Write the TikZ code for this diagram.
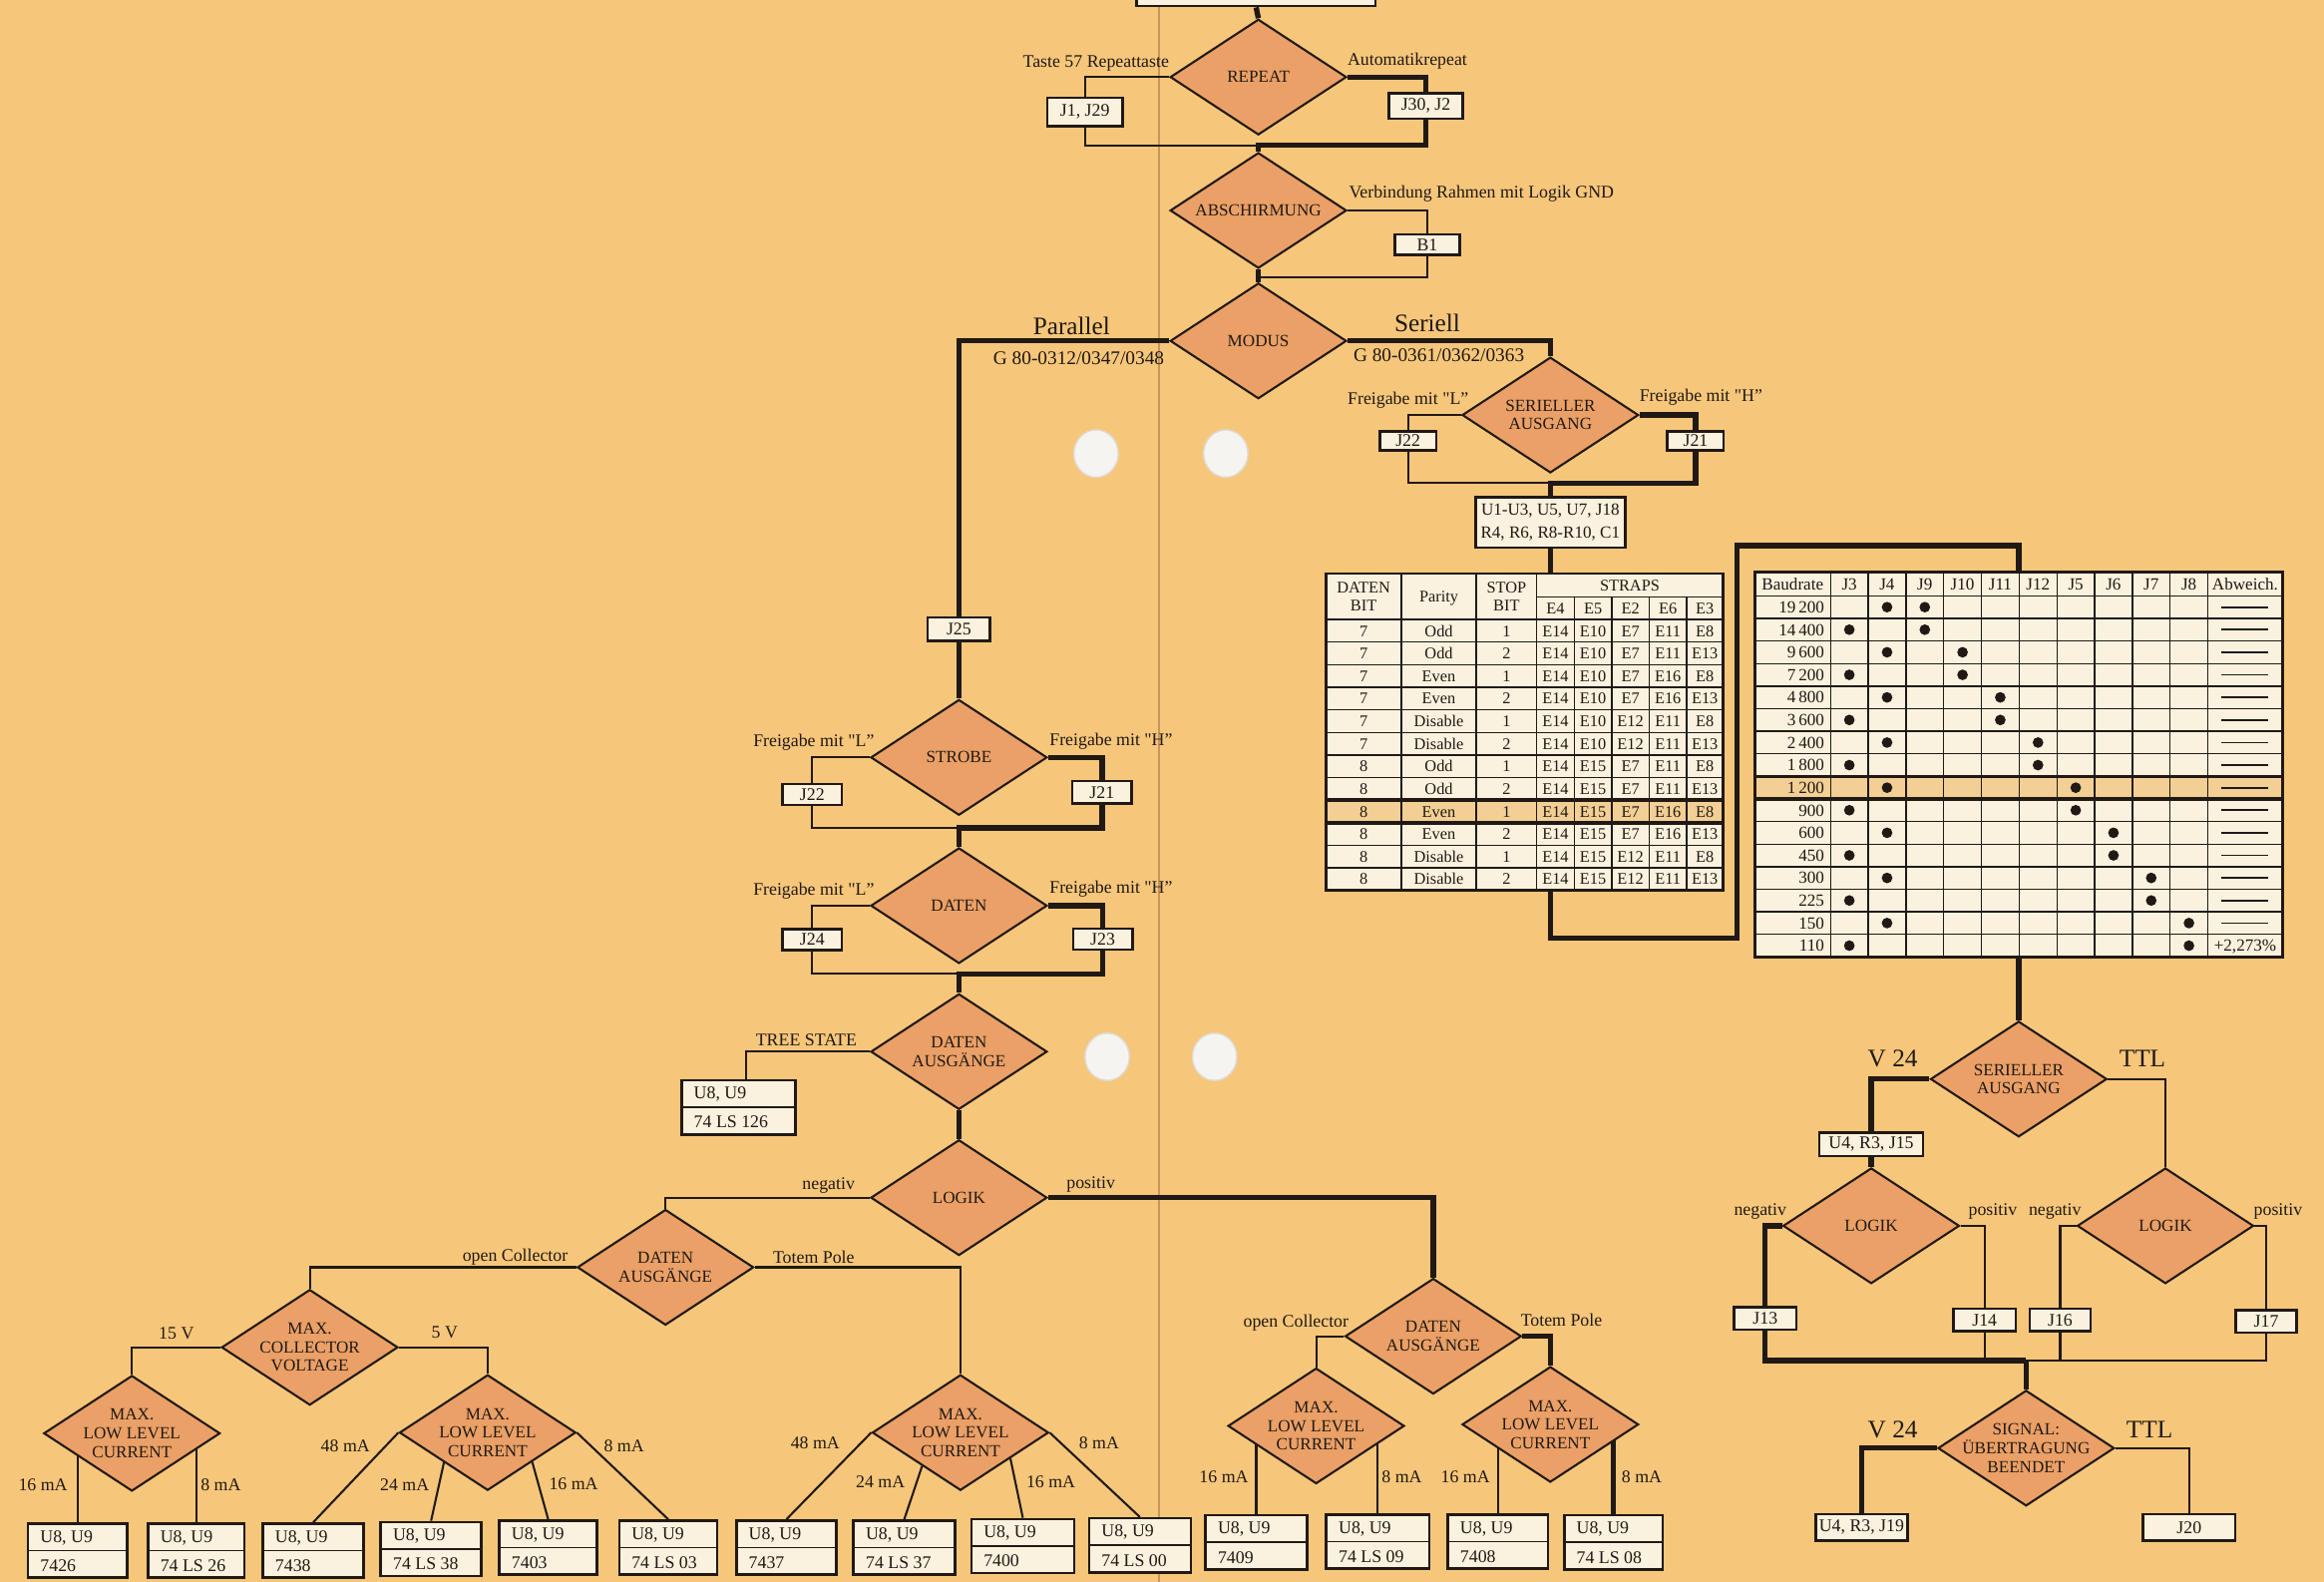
\documentclass[tikz,border=0pt]{standalone}
\usepackage{fontspec}
\setmainfont{Liberation Serif}
\usetikzlibrary{shapes.geometric,calc}
\definecolor{bg}{RGB}{246,198,122}
\definecolor{dfill}{RGB}{234,160,102}
\definecolor{cream}{RGB}{250,242,222}
\definecolor{ink}{RGB}{32,25,20}
\definecolor{hl}{RGB}{242,207,148}
\definecolor{hole}{RGB}{246,244,240}
\definecolor{holeedge}{RGB}{225,218,205}
\definecolor{crease}{RGB}{200,150,92}
\pgfdeclarelayer{bgl}
\pgfdeclarelayer{lines}
\pgfsetlayers{bgl,lines,main}
\tikzset{
  dia/.style={shape=diamond, draw=ink, line width=1.4pt, fill=dfill, minimum width=119pt, minimum height=78pt, inner sep=0pt},
  dtxt/.style={font=\fontsize{11.5}{12.5}\selectfont, align=center, text=ink, inner sep=0pt},
  lbl/.style={font=\fontsize{12}{14}\selectfont, text=ink, inner sep=0pt},
  biglbl/.style={font=\fontsize{17}{20}\selectfont, text=ink, inner sep=0pt},
  glbl/.style={font=\fontsize{13}{15}\selectfont, text=ink, inner sep=0pt},
  jbox/.style={draw=ink, line width=1.7pt, fill=cream, font=\fontsize{12}{14}\selectfont, text=ink, inner sep=0pt},
  icbox/.style={draw=ink, line width=1.7pt, fill=cream, minimum height=36.5pt, inner sep=0pt},
  thinl/.style={draw=ink, line width=1.4pt},
  thickl/.style={draw=ink, line width=3.6pt},
  tgrid/.style={draw=ink, line width=0.9pt},
  ttxt/.style={font=\fontsize{11}{12}\selectfont, text=ink, inner sep=0pt, text height=7.6pt, text depth=0pt},
  ttxt2/.style={font=\fontsize{11}{12}\selectfont, text=ink, inner sep=0pt, align=center},
  rtxt/.style={font=\fontsize{11.5}{12}\selectfont, text=ink, inner sep=0pt, text height=7.8pt, text depth=0pt},
}
\newcommand\Dia[4]{\node[dia] (#1) at (#2,#3) {};\node[dtxt] (#1-t) at (#1.center) {#4};}
\newcommand\JB[6]{\node[jbox, minimum width=#4pt, minimum height=#5pt] (#1) at (#2,#3) {#6};}
\newcommand\ICB[5]{%
  \node[icbox, minimum width=#4pt, anchor=north west] (#1) at (#2,#3) {};
  \draw[ink, line width=1.2pt] (#1.west) -- (#1.east);
  \node[lbl, anchor=base west] (#1-a) at ($(#1.north west)+(9,13.5)$) {U8, U9};
  \node[lbl, anchor=base west] (#1-b) at ($(#1.west)+(9,14)$) {#5};}
\newcommand\FL{Freigabe mit \textquotedbl L”}
\newcommand\FH{Freigabe mit \textquotedbl H”}
\begin{document}
\begin{tikzpicture}[x=1pt,y=-1pt]
\useasboundingbox (0,0) rectangle (1568,1067);
\begin{pgfonlayer}{bgl}
\fill[bg] (0,0) rectangle (1568,1067);
\draw[crease, line width=1.2pt] (782,0) -- (782,1067);
\fill[hole, draw=holeedge, line width=1pt] (739.5,306) ellipse (15pt and 16pt);
\fill[hole, draw=holeedge, line width=1pt] (827,306) ellipse (15pt and 16pt);
\fill[hole, draw=holeedge, line width=1pt] (747,713) ellipse (15pt and 16pt);
\fill[hole, draw=holeedge, line width=1pt] (819.5,713) ellipse (15pt and 16pt);
\end{pgfonlayer}

% ---------- diamonds
\node[jbox, minimum width=161pt, minimum height=20pt, anchor=south] (topbox) at (847.5,5) {};
\Dia{repeat}{849}{52}{REPEAT}
\Dia{abs}{849}{142}{ABSCHIRMUNG}
\Dia{modus}{849}{230}{MODUS}
\Dia{ser1}{1046}{280}{SERIELLER\\AUSGANG}
\Dia{strobe}{647}{511}{STROBE}
\Dia{daten}{647}{611}{DATEN}
\Dia{dam}{647}{709.5}{DATEN\\AUSGÄNGE}
\Dia{logm}{647}{808}{LOGIK}
\Dia{dal}{449}{855}{DATEN\\AUSGÄNGE}
\Dia{mcv}{209}{909}{MAX.\\COLLECTOR\\VOLTAGE}
\Dia{llc1}{89}{967}{MAX.\\LOW LEVEL\\CURRENT}
\Dia{llc2}{329}{966.5}{MAX.\\LOW LEVEL\\CURRENT}
\Dia{llc3}{648}{966.5}{MAX.\\LOW LEVEL\\CURRENT}
\Dia{dar}{967}{901.5}{DATEN\\AUSGÄNGE}
\Dia{llc4}{888}{962}{MAX.\\LOW LEVEL\\CURRENT}
\Dia{llc5}{1046}{961}{MAX.\\LOW LEVEL\\CURRENT}
\Dia{ser2}{1362}{728}{SERIELLER\\AUSGANG}
\Dia{log3}{1262.5}{827}{LOGIK}
\Dia{log4}{1461}{827}{LOGIK}
\Dia{sig}{1367}{977}{SIGNAL:\\ÜBERTRAGUNG\\BEENDET}

% ---------- jumper boxes
\JB{j1}{732}{75.5}{51}{19}{J1, J29}
\JB{j30}{962}{71.5}{50}{17}{J30, J2}
\JB{b1box}{963}{165}{44}{14}{B1}
\JB{j22a}{950}{297.5}{38}{13}{J22}
\JB{j21a}{1144}{297.5}{38}{13}{J21}
\node[jbox, minimum width=101pt, minimum height=34pt, align=center, font=\fontsize{11.5}{15.5}\selectfont] (ubox) at (1046,352.5) {U1-U3, U5, U7, J18\\R4, R6, R8-R10, C1};
\JB{j25}{647}{424.5}{42}{16}{J25}
\JB{j22b}{548}{536}{40}{14}{J22}
\JB{j21b}{743.5}{534.5}{40}{15}{J21}
\JB{j24}{548}{634}{40}{14}{J24}
\JB{j23}{744}{633.5}{40}{14}{J23}
\JB{u15}{1262.5}{772}{70}{16}{U4, R3, J15}
\JB{j13}{1191}{889.5}{42}{15}{J13}
\JB{j14}{1339}{890.5}{42}{15}{J14}
\JB{j16}{1390}{890.5}{41}{15}{J16}
\JB{j17}{1529}{891.5}{41}{15}{J17}
\JB{u19}{1256}{1030.5}{62}{18}{U4, R3, J19}
\JB{j20}{1477}{1030.5}{62}{18}{J20}

% ---------- IC boxes
\ICB{ic0}{459}{728}{77}{74 LS 126}
\ICB{ic1}{18}{1027}{67}{7426}
\ICB{ic2}{99}{1027}{65}{74 LS 26}
\ICB{ic3}{176.5}{1027}{68}{7438}
\ICB{ic4}{256}{1026}{68}{74 LS 38}
\ICB{ic5}{336}{1025}{66}{7403}
\ICB{ic6}{417}{1025}{66}{74 LS 03}
\ICB{ic7}{496}{1025}{67.5}{7437}
\ICB{ic8}{575}{1025}{68.5}{74 LS 37}
\ICB{ic9}{654.5}{1024}{69.5}{7400}
\ICB{ic10}{734}{1023.5}{68.5}{74 LS 00}
\ICB{ic11}{812.5}{1021.5}{68.5}{7409}
\ICB{ic12}{894}{1021}{69.5}{74 LS 09}
\ICB{ic13}{976}{1021}{67.5}{7408}
\ICB{ic14}{1054.5}{1021.5}{66.5}{74 LS 08}

% ---------- labels
\node[lbl, anchor=west] (lt57) at (690,43) {Taste 57 Repeattaste};
\node[lbl, anchor=west] (lauto) at (909,41) {Automatikrepeat};
\node[lbl, anchor=west] (lverb) at (910,131) {Verbindung Rahmen mit Logik GND};
\node[biglbl, anchor=base] (lpar) at (723,226) {Parallel};
\node[glbl, anchor=west] (lgp) at (670,242) {G 80-0312/0347/0348};
\node[biglbl, anchor=base] (lser) at (963,224) {Seriell};
\node[glbl, anchor=west] (lgs) at (913,240) {G 80-0361/0362/0363};
\node[lbl, anchor=east] (lfl1) at (991,270) {\FL};
\node[lbl, anchor=west] (lfh1) at (1106,268) {\FH};
\node[lbl, anchor=east] (lfl2) at (590,501) {\FL};
\node[lbl, anchor=west] (lfh2) at (708,500) {\FH};
\node[lbl, anchor=east] (lfl3) at (590,601) {\FL};
\node[lbl, anchor=west] (lfh3) at (708,600) {\FH};
\node[lbl] (ltree) at (544,702) {TREE STATE};
\node[lbl] (lneg1) at (559,800) {negativ};
\node[lbl] (lpos1) at (736,799) {positiv};
\node[lbl] (loc1) at (347.6,848) {open Collector};
\node[lbl] (ltp1) at (549,848) {Totem Pole};
\node[lbl] (l15v) at (119,899.5) {15 V};
\node[lbl] (l5v) at (300,899) {5 V};
\node[lbl] (lm1) at (29,1001.5) {16 mA};
\node[lbl] (lm2) at (149,1001.5) {8 mA};
\node[lbl] (lm3) at (233,975.8) {48 mA};
\node[lbl] (lm4) at (273,1001.5) {24 mA};
\node[lbl] (lm5) at (387,1001) {16 mA};
\node[lbl] (lm6) at (421,975.8) {8 mA};
\node[lbl] (lm7) at (550,973.8) {48 mA};
\node[lbl] (lm8) at (594,999.8) {24 mA};
\node[lbl] (lm9) at (709,999.8) {16 mA};
\node[lbl] (lm10) at (741.5,973.8) {8 mA};
\node[lbl] (loc2) at (874.4,892.8) {open Collector};
\node[lbl] (ltp2) at (1053.5,890.5) {Totem Pole};
\node[lbl] (lm11) at (825.7,996.4) {16 mA};
\node[lbl] (lm12) at (945.8,996.4) {8 mA};
\node[lbl] (lm13) at (988.7,996.4) {16 mA};
\node[lbl] (lm14) at (1107.7,996.4) {8 mA};
\node[biglbl] (lv1) at (1277,714) {V 24};
\node[biglbl] (lt1) at (1445.5,714) {TTL};
\node[lbl] (lneg2) at (1187.6,817.6) {negativ};
\node[lbl] (lpos2) at (1344.5,817.6) {positiv};
\node[lbl] (lneg3) at (1386.5,817.6) {negativ};
\node[lbl] (lpos3) at (1537,817.6) {positiv};
\node[biglbl] (lv2) at (1277,964.4) {V 24};
\node[biglbl] (lt2) at (1450.3,964.4) {TTL};

% ---------- left table
\fill[cream] (894.6,387) rectangle (1162.4,600.7);
\fill[hl] (894.6,539.8) rectangle (1162.4,555.0);
\foreach \i in {0,...,11} \draw[tgrid] (894.6,{418+\i*15.225}) -- (1162.4,{418+\i*15.225});
\draw[tgrid] (1036.8,402.6) -- (1162.4,402.6);
\foreach \x in {945.5,996,1036.8} \draw[tgrid] (\x,387) -- (\x,600.7);
\foreach \x in {1062.1,1087.5,1112.6,1138} \draw[tgrid] (\x,402.6) -- (\x,600.7);
\draw[ink, line width=1.8pt] (894.6,387) rectangle (1162.4,600.7);
\draw[ink, line width=2.4pt] (894.6,539.8) rectangle (1162.4,555.0);
\node[ttxt2] (hdb) at (920,402.5) {DATEN\\BIT};
\node[ttxt] (hpar) at (970.75,402.5) {Parity};
\node[ttxt2] (hsb) at (1016.4,402.5) {STOP\\BIT};
\node[ttxt] (hstr) at (1099.6,394.8) {STRAPS};
\foreach \qx/\qt [count=\k] in {1049.45/E4,1074.8/E5,1100.05/E2,1125.3/E6,1150.2/E3}
  \node[ttxt] (he\k) at (\qx,410.3) {\qt};
\foreach \qa/\qb/\qc/\qd/\qe/\qf/\qg/\qh [count=\r] in {
  7/Odd/1/E14/E10/E7/E11/E8, 7/Odd/2/E14/E10/E7/E11/E13,
  7/Even/1/E14/E10/E7/E16/E8, 7/Even/2/E14/E10/E7/E16/E13,
  7/Disable/1/E14/E10/E12/E11/E8, 7/Disable/2/E14/E10/E12/E11/E13,
  8/Odd/1/E14/E15/E7/E11/E8, 8/Odd/2/E14/E15/E7/E11/E13,
  8/Even/1/E14/E15/E7/E16/E8, 8/Even/2/E14/E15/E7/E16/E13,
  8/Disable/1/E14/E15/E12/E11/E8, 8/Disable/2/E14/E15/E12/E11/E13}{
  \pgfmathsetmacro\yy{418+(\r-0.5)*15.225}
  \node[ttxt] (ld\r) at (920.05,\yy) {\qa};
  \node[ttxt] (lp\r) at (970.75,\yy) {\qb};
  \node[ttxt] (ls\r) at (1016.4,\yy) {\qc};
  \node[ttxt] (la\r) at (1049.45,\yy) {\qd};
  \node[ttxt] (lb\r) at (1074.8,\yy) {\qe};
  \node[ttxt] (lc\r) at (1100.05,\yy) {\qf};
  \node[ttxt] (le\r) at (1125.3,\yy) {\qg};
  \node[ttxt] (lf\r) at (1150.2,\yy) {\qh};
}
\coordinate (tlt) at (1046,387);
\coordinate (tlb) at (1046,600.7);

% ---------- right table
\fill[cream] (1184,386) rectangle (1540,645.6);
\fill[hl] (1184,{402+8*15.225}) rectangle (1540,{402+9*15.225});
\foreach \i in {0,...,15} \draw[tgrid] (1184,{402+\i*15.225}) -- (1540,{402+\i*15.225});
\draw[tgrid] (1235,386) -- (1235,645.6);
\foreach \k in {1,...,10} \draw[tgrid] ({1235+\k*25.46},386) -- ({1235+\k*25.46},645.6);
\draw[ink, line width=1.8pt] (1184,386) rectangle (1540,645.6);
\draw[ink, line width=2.4pt] (1184,{402+8*15.225}) rectangle (1540,{402+9*15.225});
\node[rtxt] (hbd) at (1209.5,394.2) {Baudrate};
\foreach \qt [count=\k] in {J3,J4,J9,J10,J11,J12,J5,J6,J7,J8}
  \node[rtxt] (hj\k) at ({1235+(\k-0.5)*25.46},394.2) {\qt};
\node[rtxt] (hab) at (1514.8,394.2) {Abweich.};
\foreach \qt [count=\r] in {19\,200,14\,400,9\,600,7\,200,4\,800,3\,600,2\,400,1\,800,1\,200,900,600,450,300,225,150,110}{
  \pgfmathsetmacro\yy{402+(\r-0.5)*15.225}
  \node[rtxt, anchor=east] (rr\r) at (1231,\yy) {\qt};
  \pgfmathtruncatemacro\ca{isodd(\r) ? 2 : 1}
  \pgfmathtruncatemacro\cb{ceil(\r/2)+2}
  \fill[ink] ({1235+(\ca-0.5)*25.46},\yy) circle (3.6pt);
  \fill[ink] ({1235+(\cb-0.5)*25.46},\yy) circle (3.6pt);
}
\foreach \r in {1,...,15}{
  \pgfmathsetmacro\yy{402+(\r-0.5)*15.225}
  \draw[ink, line width=1.2pt] (1499,\yy) -- (1530,\yy);
}
\node[rtxt] (rab16) at (1514.8,{402+15.5*15.225}) {+2,273\%};
\coordinate (trt) at (1362,386);
\coordinate (trb) at (1362,645.6);

% ---------- connectors
\begin{pgfonlayer}{lines}
\coordinate (jn1) at (849,98);
\coordinate (jn2) at (849,187);
\coordinate (jn3) at (1046,326);
\coordinate (jn4) at (1367,918);
\coordinate (jn5) at (647,558.5);
\coordinate (jn6) at (647,657);
\coordinate (w1) at (1046,633);
\coordinate (w2) at (1172,633);
\coordinate (w3) at (1172,368);
\coordinate (w4) at (1362,368);
\draw[thickl] (topbox.south) -- (repeat.north);
\draw[thinl] (repeat.west) -| (j1.north);
\draw[thinl] (j1.south) |- (jn1);
\draw[thickl] (repeat.east) -| (j30.north);
\draw[thickl] (j30.south) |- (jn1) -- (abs.north);
\draw[thinl] (abs.east) -| (b1box.north);
\draw[thinl] (b1box.south) |- (jn2);
\draw[thickl] (abs.south) -- (modus.north);
\draw[thickl] (modus.west) -| (j25.north);
\draw[thickl] (j25.south) -- (strobe.north);
\draw[thickl] (modus.east) -| (ser1.north);
\draw[thinl] (ser1.west) -| (j22a.north);
\draw[thinl] (j22a.south) |- (jn3);
\draw[thickl] (ser1.east) -| (j21a.north);
\draw[thickl] (j21a.south) |- (jn3) -- (ubox.north);
\draw[thickl] (ubox.south) -- (tlt);
\draw[thickl] (tlb) -- (w1) -- (w2) -- (w3) -- (w4) -- (trt);
\draw[thickl] (trb) -- (ser2.north);
\draw[thickl] (ser2.west) -| (u15.north);
\draw[thickl] (u15.south) -- (log3.north);
\draw[thinl] (ser2.east) -| (log4.north);
\draw[thickl] (log3.west) -| (j13.north);
\draw[thickl] (j13.south) |- (jn4);
\draw[thinl] (log3.east) -| (j14.north);
\draw[thinl] (j14.south) -- (j14.south |- jn4);
\draw[thinl] (log4.west) -| (j16.north);
\draw[thinl] (j16.south) -- (j16.south |- jn4);
\draw[thinl] (log4.east) -| (j17.north);
\draw[thinl] (j17.south) |- (jn4);
\draw[thickl] (jn4) -- (sig.north);
\draw[thickl] (sig.west) -| (u19.north);
\draw[thinl] (sig.east) -| (j20.north);
\draw[thinl] (strobe.west) -| (j22b.north);
\draw[thinl] (j22b.south) |- (jn5);
\draw[thickl] (strobe.east) -| (j21b.north);
\draw[thickl] (j21b.south) |- (jn5) -- (daten.north);
\draw[thinl] (daten.west) -| (j24.north);
\draw[thinl] (j24.south) |- (jn6);
\draw[thickl] (daten.east) -| (j23.north);
\draw[thickl] (j23.south) |- (jn6) -- (dam.north);
\draw[thinl] (dam.west) -| ([xshift=5pt]ic0.north);
\draw[thickl] (dam.south) -- (logm.north);
\draw[thinl] (logm.west) -| (dal.north);
\draw[thickl] (logm.east) -| (dar.north);
\draw[thinl] (dal.west) -| (mcv.north);
\draw[thinl] (dal.east) -| (llc3.north);
\draw[thinl] (mcv.west) -| (llc1.north);
\draw[thinl] (mcv.east) -| (llc2.north);
\draw[thinl] (ic1.north) -- (ic1.north |- llc1.center);
\draw[thinl] (ic2.north) -- (ic2.north |- llc1.center);
\draw[thinl] (llc2.west) -- (ic3.north);
\draw[thinl] ($(llc2.south)!0.49!(llc2.west)$) -- (ic4.north);
\draw[thinl] ($(llc2.south)!0.5!(llc2.east)$) -- (ic5.north);
\draw[thinl] (llc2.east) -- (ic6.north);
\draw[thinl] (llc3.west) -- (ic7.north);
\draw[thinl] ($(llc3.south)!0.43!(llc3.west)$) -- (ic8.north);
\draw[thinl] ($(llc3.south)!0.56!(llc3.east)$) -- (ic9.north);
\draw[thinl] (llc3.east) -- (ic10.north);
\draw[thinl] (dar.west) -| (llc4.north);
\draw[thickl] (dar.east) -| (llc5.north);
\draw[thinl] (ic11.north) -- (ic11.north |- llc4.center);
\draw[thinl] (ic12.north) -- (ic12.north |- llc4.center);
\draw[thinl] (ic13.north) -- (ic13.north |- llc5.center);
\draw[thickl] (ic14.north) -- (ic14.north |- llc5.center);
\end{pgfonlayer}
\end{tikzpicture}
\end{document}
